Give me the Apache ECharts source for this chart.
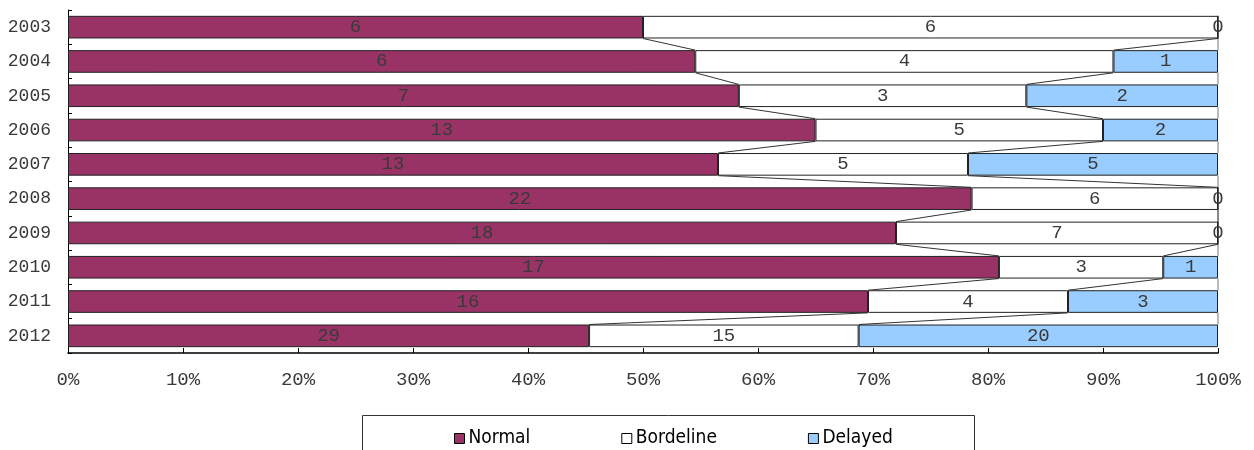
<!DOCTYPE html>
<html>
<head>
<meta charset="utf-8">
<script src="https://cdn.jsdelivr.net/npm/echarts@6/dist/echarts.min.js"></script>
<style>html,body{margin:0;padding:0;background:#fff}#c{width:1254px;height:450px}</style>
</head>
<body>
<div id="c"></div>
<script>
const years = ['2003','2004','2005','2006','2007','2008','2009','2010','2011','2012'];
const normal    = [6, 6, 7, 13, 13, 22, 18, 17, 16, 29];
const borderline= [6, 4, 3, 5, 5, 6, 7, 3, 4, 15];
const delayed   = [0, 1, 2, 2, 5, 0, 0, 1, 3, 20];
const seriesNames = ['Normal', 'Bordeline', 'Delayed'];
const xTicks = [0, 10, 20, 30, 40, 50, 60, 70, 80, 90, 100];

const raw = [normal, borderline, delayed];
const totals = years.map((_, i) => normal[i] + borderline[i] + delayed[i]);
const shares = raw.map(arr => arr.map((v, i) => v / totals[i] * 100));
const cum = [];
let acc = years.map(() => 0);
shares.forEach(s => { acc = acc.map((a, i) => a + s[i]); cum.push(acc.slice()); });

const colors = ['#993366', '#FFFFFF', '#99CCFF'];
const BAR_FRAC = 0.66;
const mono = '"Liberation Mono", "DejaVu Sans Mono", monospace';

const chart = echarts.init(document.getElementById('c'), null, {renderer: 'canvas'});

const barSeries = seriesNames.map((name, k) => ({
  name: name,
  type: 'bar',
  stack: 'total',
  barWidth: (BAR_FRAC * 100) + '%',
  data: shares[k],
  itemStyle: {color: colors[k], borderColor: '#222', borderWidth: 1},
  label: {
    show: true,
    position: 'inside',
    fontFamily: mono,
    fontSize: 19,
    color: '#3a3a3a',
    formatter: p => String(raw[k][p.dataIndex])
  },
  z: 3
}));

const lineData = years.slice(0, years.length - 1).map((_, i) => [0, i]);

const seriesLines = {
  type: 'custom',
  name: 'seriesLines',
  silent: true,
  z: 1,
  data: lineData,
  renderItem: function (params, api) {
    const i = params.dataIndex;
    const half = api.size([0, 1])[1] * BAR_FRAC / 2;
    const children = cum.map((c, k) => {
      const p1 = api.coord([c[i], i]);
      const p2 = api.coord([c[i + 1], i + 1]);
      return {
        type: 'line',
        shape: {x1: p1[0], y1: p1[1] + half, x2: p2[0], y2: p2[1] - half},
        style: {stroke: k === 2 ? '#777' : '#333', lineWidth: 1}
      };
    });
    return {type: 'group', children: children};
  }
};

chart.setOption({
  animation: false,
  backgroundColor: '#fff',
  grid: {left: 68, right: 36, top: 10, bottom: 97, containLabel: false},
  xAxis: {
    type: 'value',
    min: xTicks[0],
    max: xTicks[xTicks.length - 1],
    interval: xTicks[1] - xTicks[0],
    axisLine: {show: true, lineStyle: {color: '#000', width: 1.5}},
    axisTick: {show: true, inside: true, length: 5, lineStyle: {color: '#000'}},
    splitLine: {show: false},
    axisLabel: {formatter: '{value}%', fontFamily: mono, fontSize: 19, color: '#3a3a3a', margin: 17}
  },
  yAxis: {
    type: 'category',
    data: years,
    inverse: true,
    axisLine: {show: true, lineStyle: {color: '#000', width: 1}},
    axisTick: {show: true, inside: true, length: 4, lineStyle: {color: '#000'}},
    axisLabel: {fontFamily: mono, fontSize: 18, color: '#3a3a3a', margin: 17}
  },
  legend: {
    data: seriesNames,
    left: 454,
    top: 429,
    padding: 0,
    itemGap: 91,
    itemWidth: 10,
    itemHeight: 10,
    icon: 'rect',
    itemStyle: {borderColor: '#000', borderWidth: 1},
    textStyle: {fontFamily: '"DejaVu Sans Condensed", "DejaVu Sans", sans-serif', fontSize: 19, color: '#000', padding: [0, 0, 0, -1]}
  },
  graphic: [{
    type: 'rect',
    shape: {x: 362.5, y: 415.5, width: 612, height: 60},
    style: {fill: 'none', stroke: '#333', lineWidth: 1},
    silent: true
  }],
  series: [...barSeries, seriesLines]
});
</script>
</body>
</html>
